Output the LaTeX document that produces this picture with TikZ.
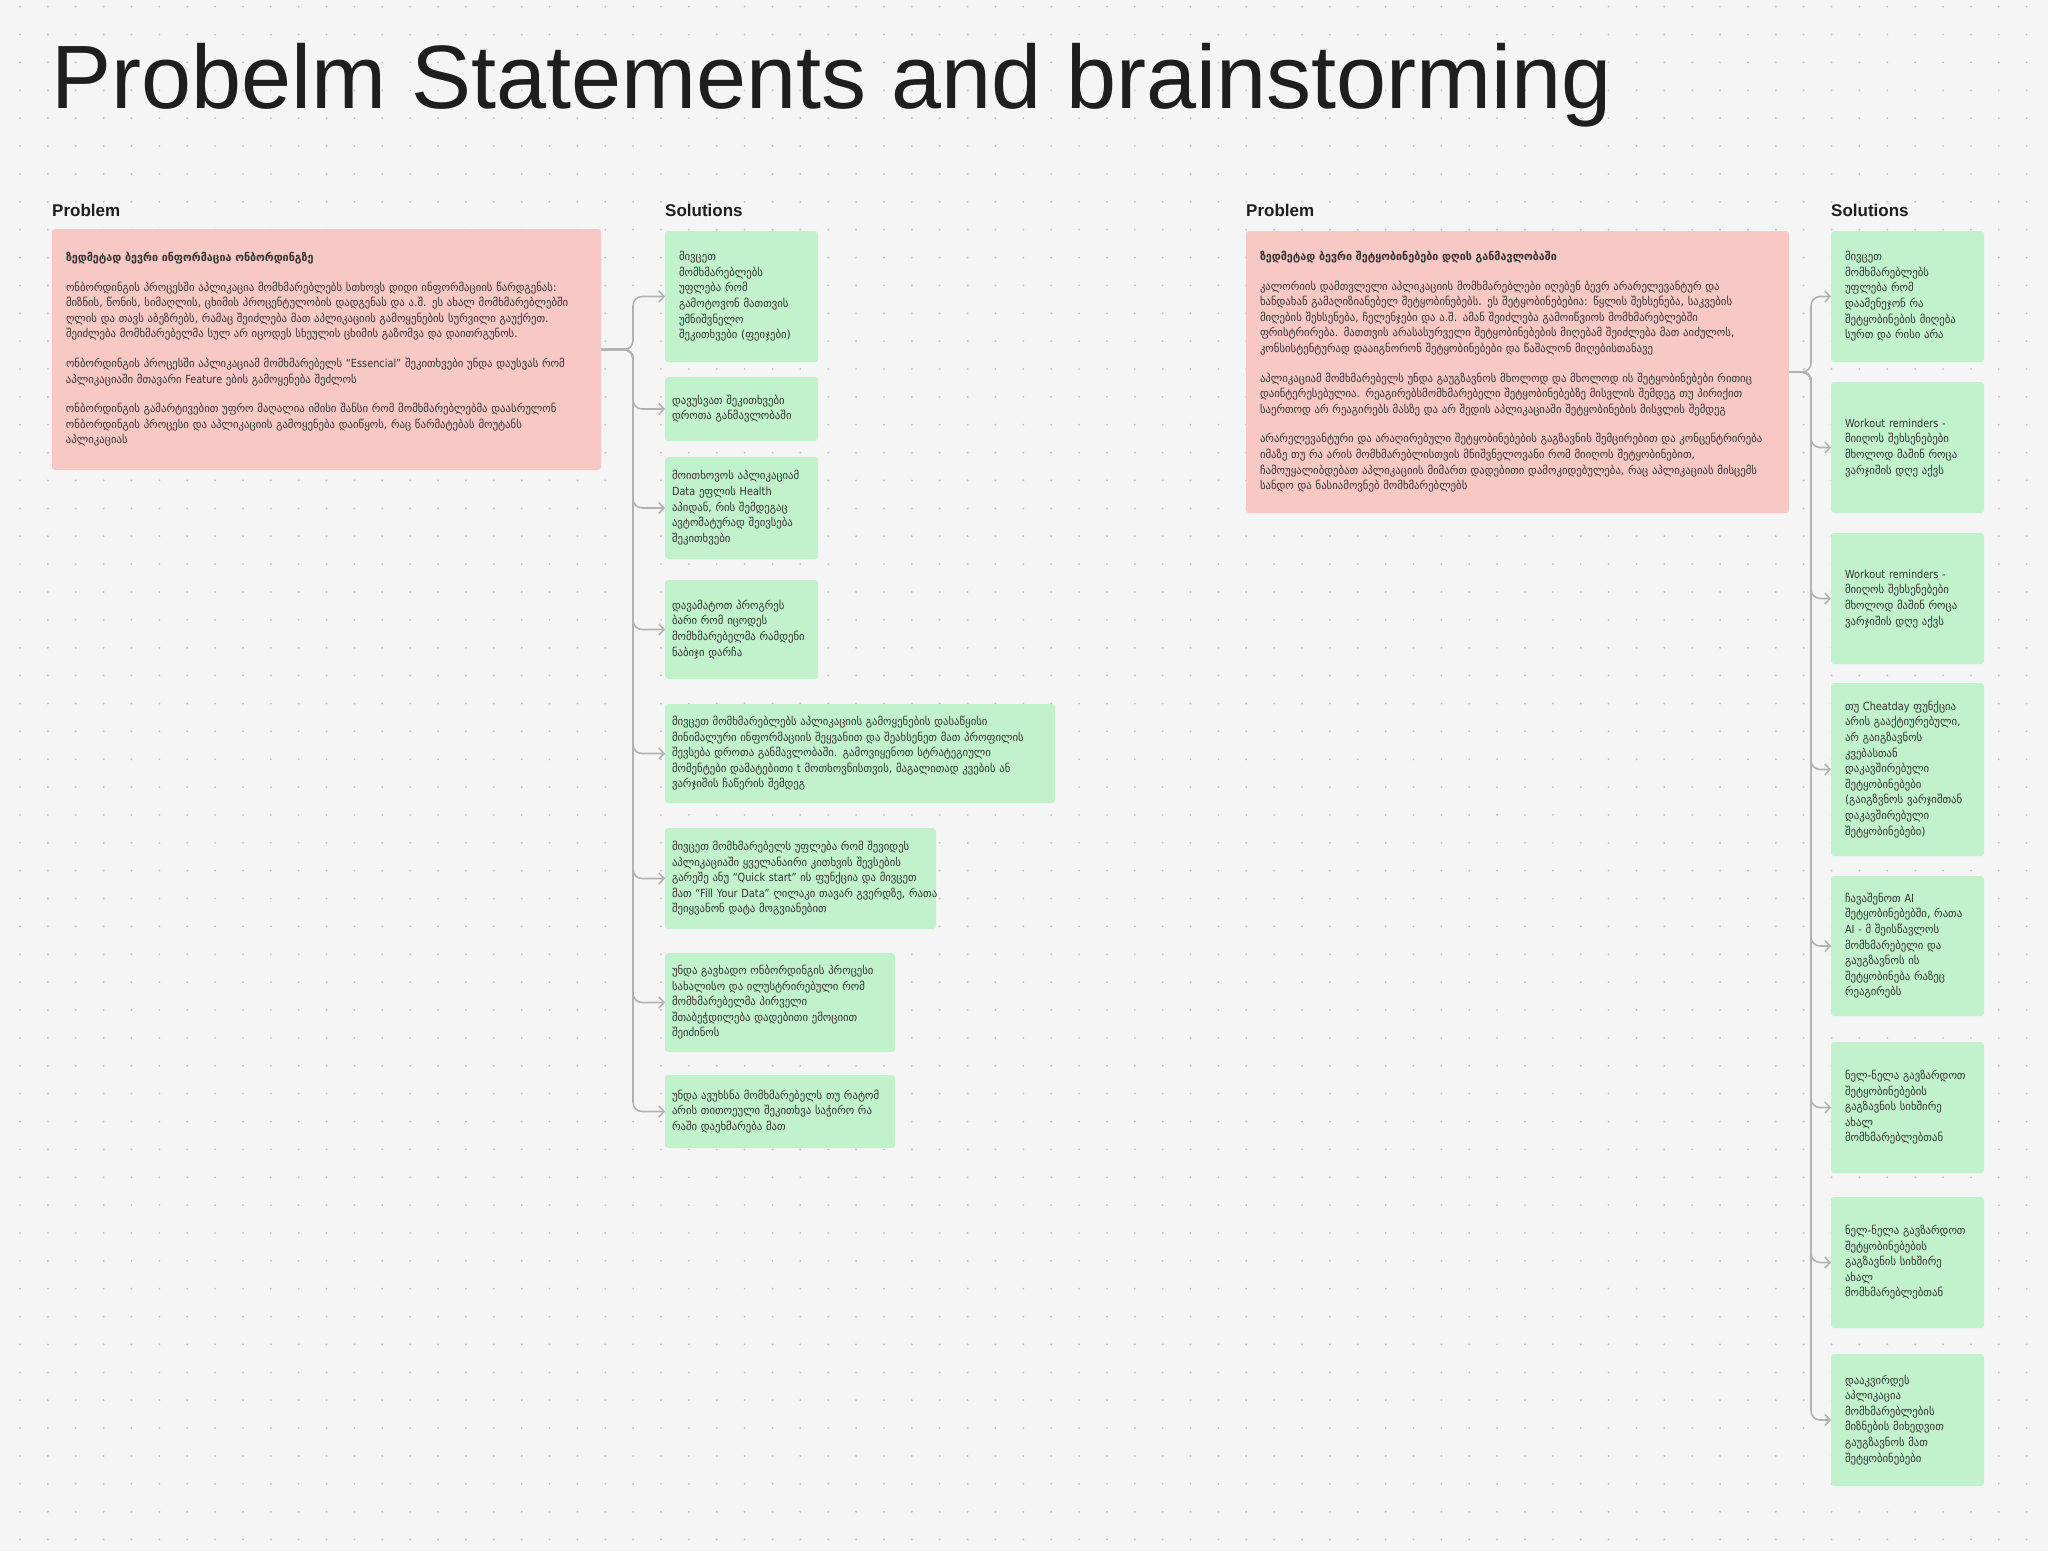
\documentclass[tikz,border=0pt]{standalone}
\usepackage{fontspec}
\usetikzlibrary{arrows.meta}
\newfontfamily\geo{DejaVu Sans}[FakeStretch=0.96]
\newfontfamily\lat{DejaVu Sans}[FakeStretch=0.87]
\newfontfamily\hd{Liberation Sans}
\definecolor{bgc}{RGB}{245,245,245}
\definecolor{dotc}{RGB}{196,196,196}
\definecolor{pinkc}{RGB}{247,200,196}
\definecolor{greenc}{RGB}{193,242,203}
\definecolor{linec}{RGB}{178,178,178}
\definecolor{txtc}{RGB}{51,51,51}
\definecolor{titc}{RGB}{30,30,30}
\newcommand{\txtlines}[1]{\begin{tabular}{@{}l@{}}#1\end{tabular}}

\begin{document}
\begin{tikzpicture}[x=1pt, y=-1pt,
	head/.style={anchor=base west, inner sep=0pt, text=titc, font=\hd\bfseries\fontsize{17}{20}\selectfont},
	prob/.style={anchor=north west, fill=pinkc, rounded corners=3pt, outer sep=0pt, inner xsep=14pt, text=txtc, font=\geo\fontsize{11.2}{15.6}\selectfont},
	sol/.style={anchor=north west, fill=greenc, rounded corners=3pt, outer sep=0pt, inner xsep=7pt, text=txtc, font=\geo\fontsize{11.2}{15.6}\selectfont},
	link/.style={draw=linec, line width=1.6pt, rounded corners=9pt, -{Straight Barb[length=5pt,width=11pt]}}]
	\useasboundingbox (0,0) rectangle (2048,1551);
	\fill [bgc] (0,0) rectangle (2048,1551);
	% dotted canvas
	\foreach \i in {0,...,72}
		\foreach \j in {0,...,55}
			\fill [dotc] (20+27.87*\i, 6.7+27.87*\j) circle (1.1pt);

	\node [anchor=base west, inner sep=0pt, text=titc, font=\hd\fontsize{90}{92}\selectfont] (title) at (51,108) {Probelm Statements and brainstorming};

	% first problem
	\node [head] (hpl) at (52,216) {Problem};
	\node [head] (hsl) at (665,216) {Solutions};
	\node [prob, text width=521pt, minimum height=241pt] (pl) at (52,229) {\txtlines{%
		{\bfseries ზედმეტად ბევრი ინფორმაცია ონბორდინგზე}\\[14pt]
		ონბორდინგის პროცესში აპლიკაცია მომხმარებლებს სთხოვს დიდი ინფორმაციის წარდგენას:\\
		მიზნის, წონის, სიმაღლის, ცხიმის პროცენტულობის დადგენას და ა.შ. ეს ახალ მომხმარებლებში\\
		ღლის და თავს აბეზრებს, რამაც შეიძლება მათ აპლიკაციის გამოყენების სურვილი გაუქრეთ.\\
		შეიძლება მომხმარებელმა სულ არ იცოდეს სხეულის ცხიმის გაზომვა და დაითრგუნოს.\\[14pt]
		ონბორდინგის პროცესში აპლიკაციამ მომხმარებელს {\lat “Essencial”} შეკითხვები უნდა დაუსვას რომ\\
		აპლიკაციაში მთავარი {\lat Feature} ების გამოყენება შეძლოს\\[14pt]
		ონბორდინგის გამარტივებით უფრო მაღალია იმისი შანსი რომ მომხმარებლებმა დაასრულონ\\
		ონბორდინგის პროცესი და აპლიკაციის გამოყენება დაიწყოს, რაც წარმატებას მოუტანს\\
		აპლიკაციას}};

	\node [sol, inner xsep=14pt, text width=125pt, minimum height=131pt] (s1) at (665,231) {\txtlines{%
		მივცეთ\\ მომხმარებლებს\\ უფლება რომ\\ გამოტოვონ მათთვის\\ უმნიშვნელო\\ შეკითხვები (ფეიჯები)}};
	\node [sol, text width=139pt, minimum height=64pt] (s2) at (665,377) {\txtlines{%
		დავუსვათ შეკითხვები\\ დროთა განმავლობაში}};
	\node [sol, text width=139pt, minimum height=102pt] (s3) at (665,457) {\txtlines{%
		მოითხოვოს აპლიკაციამ\\ {\lat Data} ეფლის {\lat Health}\\ აპიდან, რის შემდეგაც\\ ავტომატურად შეივსება\\ შეკითხვები}};
	\node [sol, text width=139pt, minimum height=99pt] (s4) at (665,580) {\txtlines{%
		დავამატოთ პროგრეს\\ ბარი რომ იცოდეს\\ მომხმარებელმა რამდენი\\ ნაბიჯი დარჩა}};
	\node [sol, text width=376pt, minimum height=99pt] (s5) at (665,704) {\txtlines{%
		მივცეთ მომხმარებლებს აპლიკაციის გამოყენების დასაწყისი\\
		მინიმალური ინფორმაციის შეყვანით და შეახსენეთ მათ პროფილის\\
		შევსება დროთა განმავლობაში. გამოვიყენოთ სტრატეგიული\\
		მომენტები დამატებითი {\lat t} მოთხოვნისთვის, მაგალითად კვების ან\\
		ვარჯიშის ჩაწერის შემდეგ}};
	\node [sol, text width=257pt, minimum height=101pt] (s6) at (665,828) {\txtlines{%
		მივცეთ მომხმარებელს უფლება რომ შევიდეს\\
		აპლიკაციაში ყველანაირი კითხვის შევსების\\
		გარეშე ანუ {\lat “Quick start”} ის ფუნქცია და მივცეთ\\
		მათ {\lat “Fill Your Data”} ღილაკი თავარ გვერდზე, რათა\\
		შეიყვანონ დატა მოგვიანებით}};
	\node [sol, text width=216pt, minimum height=99pt] (s7) at (665,953) {\txtlines{%
		უნდა გავხადო ონბორდინგის პროცესი\\
		სახალისო და ილუსტრირებული რომ\\
		მომხმარებელმა პირველი\\
		შთაბეჭდილება დადებითი ემოციით\\
		შეიძინოს}};
	\node [sol, text width=216pt, minimum height=73pt] (s8) at (665,1075) {\txtlines{%
		უნდა ავუხსნა მომხმარებელს თუ რატომ\\
		არის თითოეული შეკითხვა საჭირო რა\\
		რაში დაეხმარება მათ}};

	% second problem
	\node [head] (hpr) at (1246,216) {Problem};
	\node [head] (hsr) at (1831,216) {Solutions};
	\node [prob, text width=515pt, minimum height=282pt] (pr) at (1246,231) {\txtlines{%
		{\bfseries ზედმეტად ბევრი შეტყობინებები დღის განმავლობაში}\\[14pt]
		კალორიის დამთვლელი აპლიკაციის მომხმარებლები იღებენ ბევრ არარელევანტურ და\\
		ხანდახან გამაღიზიანებელ შეტყობინებებს. ეს შეტყობინებებია: წყლის შეხსენება, საკვების\\
		მიღების შეხსენება, ჩელენჯები და ა.შ. ამან შეიძლება გამოიწვიოს მომხმარებლებში\\
		ფრისტრირება. მათთვის არასასურველი შეტყობინებების მიღებამ შეიძლება მათ აიძულოს,\\
		კონსისტენტურად დააიგნორონ შეტყობინებები და წაშალონ მიღებისთანავე\\[14pt]
		აპლიკაციამ მომხმარებელს უნდა გაუგზავნოს მხოლოდ და მხოლოდ ის შეტყობინებები რითიც\\
		დაინტერესებულია. რეაგირებსმომხმარებელი შეტყობინებებზე მისვლის შემდეგ თუ პირიქით\\
		საერთოდ არ რეაგირებს მასზე და არ შედის აპლიკაციაში შეტყობინების მისვლის შემდეგ\\[14pt]
		არარელევანტური და არაღირებული შეტყობინებების გაგზავნის შემცირებით და კონცენტრირება\\
		იმაზე თუ რა არის მომხმარებლისთვის მნიშვნელოვანი რომ მიიღოს შეტყობინებით,\\
		ჩამოუყალიბდებათ აპლიკაციის მიმართ დადებითი დამოკიდებულება, რაც აპლიკაციას მისცემს\\
		სანდო და ნასიამოვნებ მომხმარებლებს}};

	\node [sol, inner xsep=14pt, text width=125pt, minimum height=131pt] (r1) at (1831,231) {\txtlines{%
		მივცეთ\\ მომხმარებლებს\\ უფლება რომ\\ დაამენეჯონ რა\\ შეტყობინების მიღება\\ სურთ და რისი არა}};
	\node [sol, inner xsep=14pt, text width=125pt, minimum height=131pt] (r2) at (1831,382) {\txtlines{%
		{\lat Workout reminders -}\\ მიიღოს შეხსენებები\\ მხოლოდ მაშინ როცა\\ ვარჯიშის დღე აქვს}};
	\node [sol, inner xsep=14pt, text width=125pt, minimum height=131pt] (r3) at (1831,533) {\txtlines{%
		{\lat Workout reminders -}\\ მიიღოს შეხსენებები\\ მხოლოდ მაშინ როცა\\ ვარჯიშის დღე აქვს}};
	\node [sol, inner xsep=14pt, text width=125pt, minimum height=173pt] (r4) at (1831,683) {\txtlines{%
		თუ {\lat Cheatday} ფუნქცია\\ არის გააქტიურებული,\\ არ გაიგზავნოს\\ კვებასთან\\ დაკავშირებული\\ შეტყობინებები\\ (გაიგზვნოს ვარჯიშთან\\ დაკავშირებული\\ შეტყობინებები)}};
	\node [sol, inner xsep=14pt, text width=125pt, minimum height=140pt] (r5) at (1831,876) {\txtlines{%
		ჩავაშენოთ {\lat AI}\\ შეტყობინებებში, რათა\\ {\lat AI -} მ შეისწავლოს\\ მომხმარებელი და\\ გაუგზავნოს ის\\ შეტყობინება რაზეც\\ რეაგირებს}};
	\node [sol, inner xsep=14pt, text width=125pt, minimum height=131pt] (r6) at (1831,1042) {\txtlines{%
		ნელ-ნელა გავზარდოთ\\ შეტყობინებების\\ გაგზავნის სიხშირე\\ ახალ\\ მომხმარებლებთან}};
	\node [sol, inner xsep=14pt, text width=125pt, minimum height=131pt] (r7) at (1831,1197) {\txtlines{%
		ნელ-ნელა გავზარდოთ\\ შეტყობინებების\\ გაგზავნის სიხშირე\\ ახალ\\ მომხმარებლებთან}};
	\node [sol, inner xsep=14pt, text width=125pt, minimum height=132pt] (r8) at (1831,1354) {\txtlines{%
		დააკვირდეს\\ აპლიკაცია\\ მომხმარებლების\\ მიზნების მიხედვით\\ გაუგზავნოს მათ\\ შეტყობინებები}};

	% connectors
	\coordinate (tl) at (633,0);
	\coordinate (tr) at (1811,0);
	\foreach \n in {1,...,8} {
		\draw [link] (pl.east) -- (pl.east -| tl) |- (s\n.west);
		\draw [link] (pr.east) -- (pr.east -| tr) |- (r\n.west);
	}
\end{tikzpicture}
\end{document}
